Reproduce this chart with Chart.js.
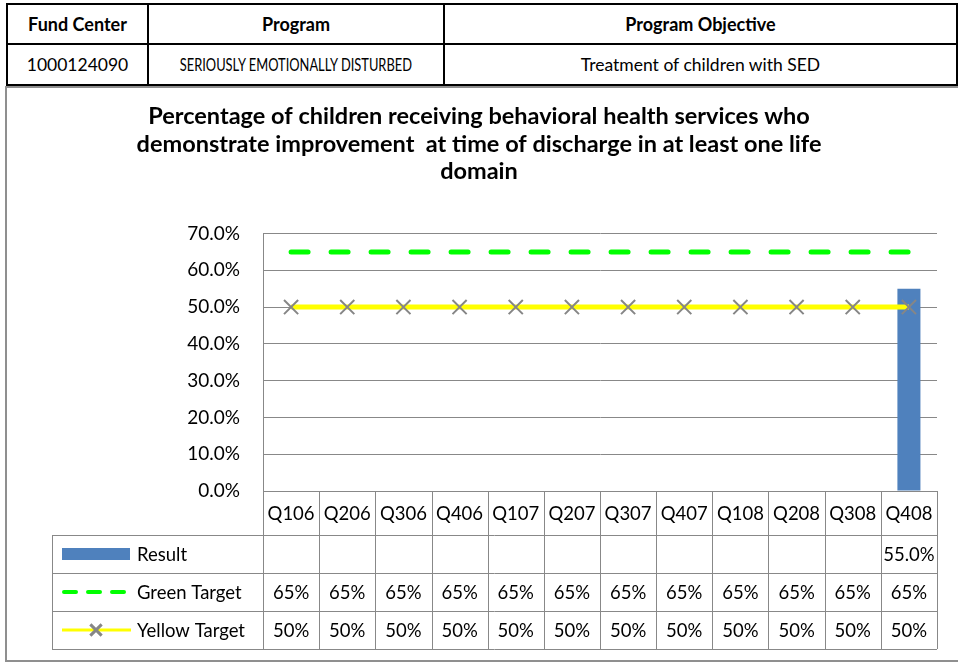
<!DOCTYPE html>
<html lang="en">
<head>
    <meta charset="UTF-8">
    <title>Program Result - SED</title>
    <script src="https://cdn.jsdelivr.net/npm/chart.js"></script>
    <style>
        body {
            margin: 0;
            background-color: #ffffff;
            font-family: Lato, sans-serif;
            overflow: hidden;
        }
        .program-table {
            position: absolute;
            top: 3px;
            left: 6px;
            width: 1000px;
            table-layout: fixed;
            border-collapse: collapse;
            color: #000;
        }
        .program-table th, .program-table td {
            border: 2px solid #000;
            text-align: center;
            padding: 0;
            white-space: nowrap;
        }
        .program-table th { height: 38px; font-size: 18px; font-weight: bold; }
        .program-table td { height: 39px; font-size: 17.5px; }
        .program-table td.caps span {
            display: inline-block;
            font-size: 16.5px;
            transform: scaleX(0.78);
            margin: 0 -40px;
        }
        .chart-box {
            position: absolute;
            top: 86px;
            left: 5px;
            width: 1000px;
            height: 572px;
            border: 2px solid #8f8f8f;
        }
        #resultChart {
            position: absolute;
            top: 0;
            left: 0;
        }
    </style>
</head>
<body>
    <table class="program-table">
        <colgroup>
            <col style="width: 141px;">
            <col style="width: 296px;">
            <col style="width: 513px;">
            <col>
        </colgroup>
        <tr>
            <th>Fund Center</th>
            <th>Program</th>
            <th>Program Objective</th>
            <th></th>
        </tr>
        <tr>
            <td>1000124090</td>
            <td class="caps"><span>SERIOUSLY EMOTIONALLY DISTURBED</span></td>
            <td>Treatment of children with SED</td>
            <td></td>
        </tr>
    </table>
    <div class="chart-box"></div>
    <canvas id="resultChart" width="958" height="662"></canvas>

    <script>
        // chart data
        const quarters = ['Q106', 'Q206', 'Q306', 'Q406', 'Q107', 'Q207', 'Q307', 'Q407', 'Q108', 'Q208', 'Q308', 'Q408'];
        const result = [null, null, null, null, null, null, null, null, null, null, null, 55.0];
        const greenTarget = [65, 65, 65, 65, 65, 65, 65, 65, 65, 65, 65, 65];
        const yellowTarget = [50, 50, 50, 50, 50, 50, 50, 50, 50, 50, 50, 50];
        const yTicks = [0, 10, 20, 30, 40, 50, 60, 70];

        const titleLines = [
            'Percentage of children receiving behavioral health services who',
            'demonstrate improvement  at time of discharge in at least one life',
            'domain'
        ];

        const gridColor = '#888888';
        const tableFont = '18.5px Lato, sans-serif';

        // draws the data table under the plot (category labels, values, legend keys)
        const dataTablePlugin = {
            id: 'dataTable',
            afterDraw(chart) {
                const ctx = chart.ctx;
                const x = chart.scales.x;
                const area = chart.chartArea;
                const rowTop = [area.bottom, 535, 573, 611, 649];
                const legendLeft = 52;
                const half = (x.getPixelForValue(1) - x.getPixelForValue(0)) / 2;
                const edges = quarters.map((q, i) => x.getPixelForValue(i) - half);
                edges.push(x.getPixelForValue(quarters.length - 1) + half);

                ctx.save();
                ctx.strokeStyle = gridColor;
                ctx.lineWidth = 1;
                ctx.beginPath();
                // horizontal lines
                for (let r = 1; r < rowTop.length; r++) {
                    ctx.moveTo(legendLeft, rowTop[r] + 0.5);
                    ctx.lineTo(area.right, rowTop[r] + 0.5);
                }
                // vertical lines
                edges.forEach(ex => {
                    ctx.moveTo(Math.round(ex) + 0.5, rowTop[0]);
                    ctx.lineTo(Math.round(ex) + 0.5, rowTop[4]);
                });
                ctx.moveTo(legendLeft + 0.5, rowTop[1]);
                ctx.lineTo(legendLeft + 0.5, rowTop[4]);
                ctx.stroke();

                // cell text
                ctx.fillStyle = '#000';
                ctx.font = tableFont;
                ctx.textAlign = 'center';
                ctx.textBaseline = 'middle';
                const rows = [
                    quarters,
                    result.map(v => v == null ? '' : v.toFixed(1) + '%'),
                    greenTarget.map(v => v + '%'),
                    yellowTarget.map(v => v + '%')
                ];
                rows.forEach((row, r) => {
                    const cy = (rowTop[r] + rowTop[r + 1]) / 2 + 1;
                    row.forEach((txt, i) => {
                        ctx.fillText(txt, x.getPixelForValue(i), cy);
                    });
                });

                // legend keys
                const sets = chart.data.datasets;
                ctx.textAlign = 'left';
                sets.forEach((ds, r) => {
                    const cy = (rowTop[r + 1] + rowTop[r + 2]) / 2;
                    if (ds.type === 'bar') {
                        ctx.fillStyle = ds.backgroundColor;
                        ctx.fillRect(62, cy - 6, 68, 12);
                    } else if (ds.borderDash) {
                        ctx.strokeStyle = ds.borderColor;
                        ctx.lineWidth = 4;
                        ctx.lineCap = 'round';
                        ctx.setLineDash([12, 12]);
                        ctx.beginPath();
                        ctx.moveTo(64, cy);
                        ctx.lineTo(124, cy);
                        ctx.stroke();
                        ctx.setLineDash([]);
                    } else {
                        ctx.strokeStyle = ds.borderColor;
                        ctx.lineWidth = 3;
                        ctx.lineCap = 'butt';
                        ctx.beginPath();
                        ctx.moveTo(62, cy);
                        ctx.lineTo(131, cy);
                        ctx.stroke();
                        ctx.strokeStyle = ds.pointBorderColor;
                        Chart.helpers.drawPoint(ctx, {
                            pointStyle: ds.pointStyle,
                            radius: 8,
                            borderWidth: ds.pointBorderWidth
                        }, 96, cy);
                    }
                    ctx.fillStyle = '#000';
                    ctx.fillText(ds.label, 137, cy + 1);
                });
                ctx.restore();
            }
        };

        const resultChart = new Chart(document.getElementById('resultChart'), {
            type: 'bar',
            data: {
                labels: quarters,
                datasets: [
                    {
                        type: 'bar',
                        label: 'Result',
                        data: result,
                        backgroundColor: '#4f81bd',
                        barPercentage: 0.41,
                        categoryPercentage: 1,
                        order: 3
                    },
                    {
                        type: 'line',
                        label: 'Green Target',
                        data: greenTarget,
                        borderColor: '#00ff00',
                        borderWidth: 5,
                        borderDash: [17, 23],
                        borderCapStyle: 'round',
                        pointRadius: 0,
                        order: 2
                    },
                    {
                        type: 'line',
                        label: 'Yellow Target',
                        data: yellowTarget,
                        borderColor: '#ffff00',
                        borderWidth: 5,
                        pointStyle: 'crossRot',
                        pointRadius: 10,
                        pointBorderColor: '#868686',
                        pointBorderWidth: 2,
                        order: 1
                    }
                ]
            },
            options: {
                responsive: false,
                animation: false,
                layout: {
                    padding: { top: 103, right: 21, bottom: 171, left: 21 }
                },
                scales: {
                    x: {
                        display: false,
                        offset: true
                    },
                    y: {
                        min: 0,
                        max: 70,
                        afterFit: s => { s.width = 242; },
                        afterBuildTicks: s => { s.ticks = yTicks.map(v => ({ value: v })); },
                        grid: { color: gridColor, drawTicks: false },
                        border: { color: gridColor },
                        ticks: {
                            padding: 23,
                            color: '#000',
                            font: { family: 'Lato', size: 19 },
                            callback: v => v.toFixed(1) + '%'
                        }
                    }
                },
                plugins: {
                    legend: { display: false },
                    tooltip: { enabled: false },
                    title: {
                        display: true,
                        text: titleLines,
                        color: '#000',
                        font: { family: 'Lato', size: 23.5, weight: 'bold', lineHeight: 1.17 },
                        padding: { top: 0, bottom: 48 }
                    }
                }
            },
            plugins: [dataTablePlugin]
        });
    </script>
</body>
</html>
